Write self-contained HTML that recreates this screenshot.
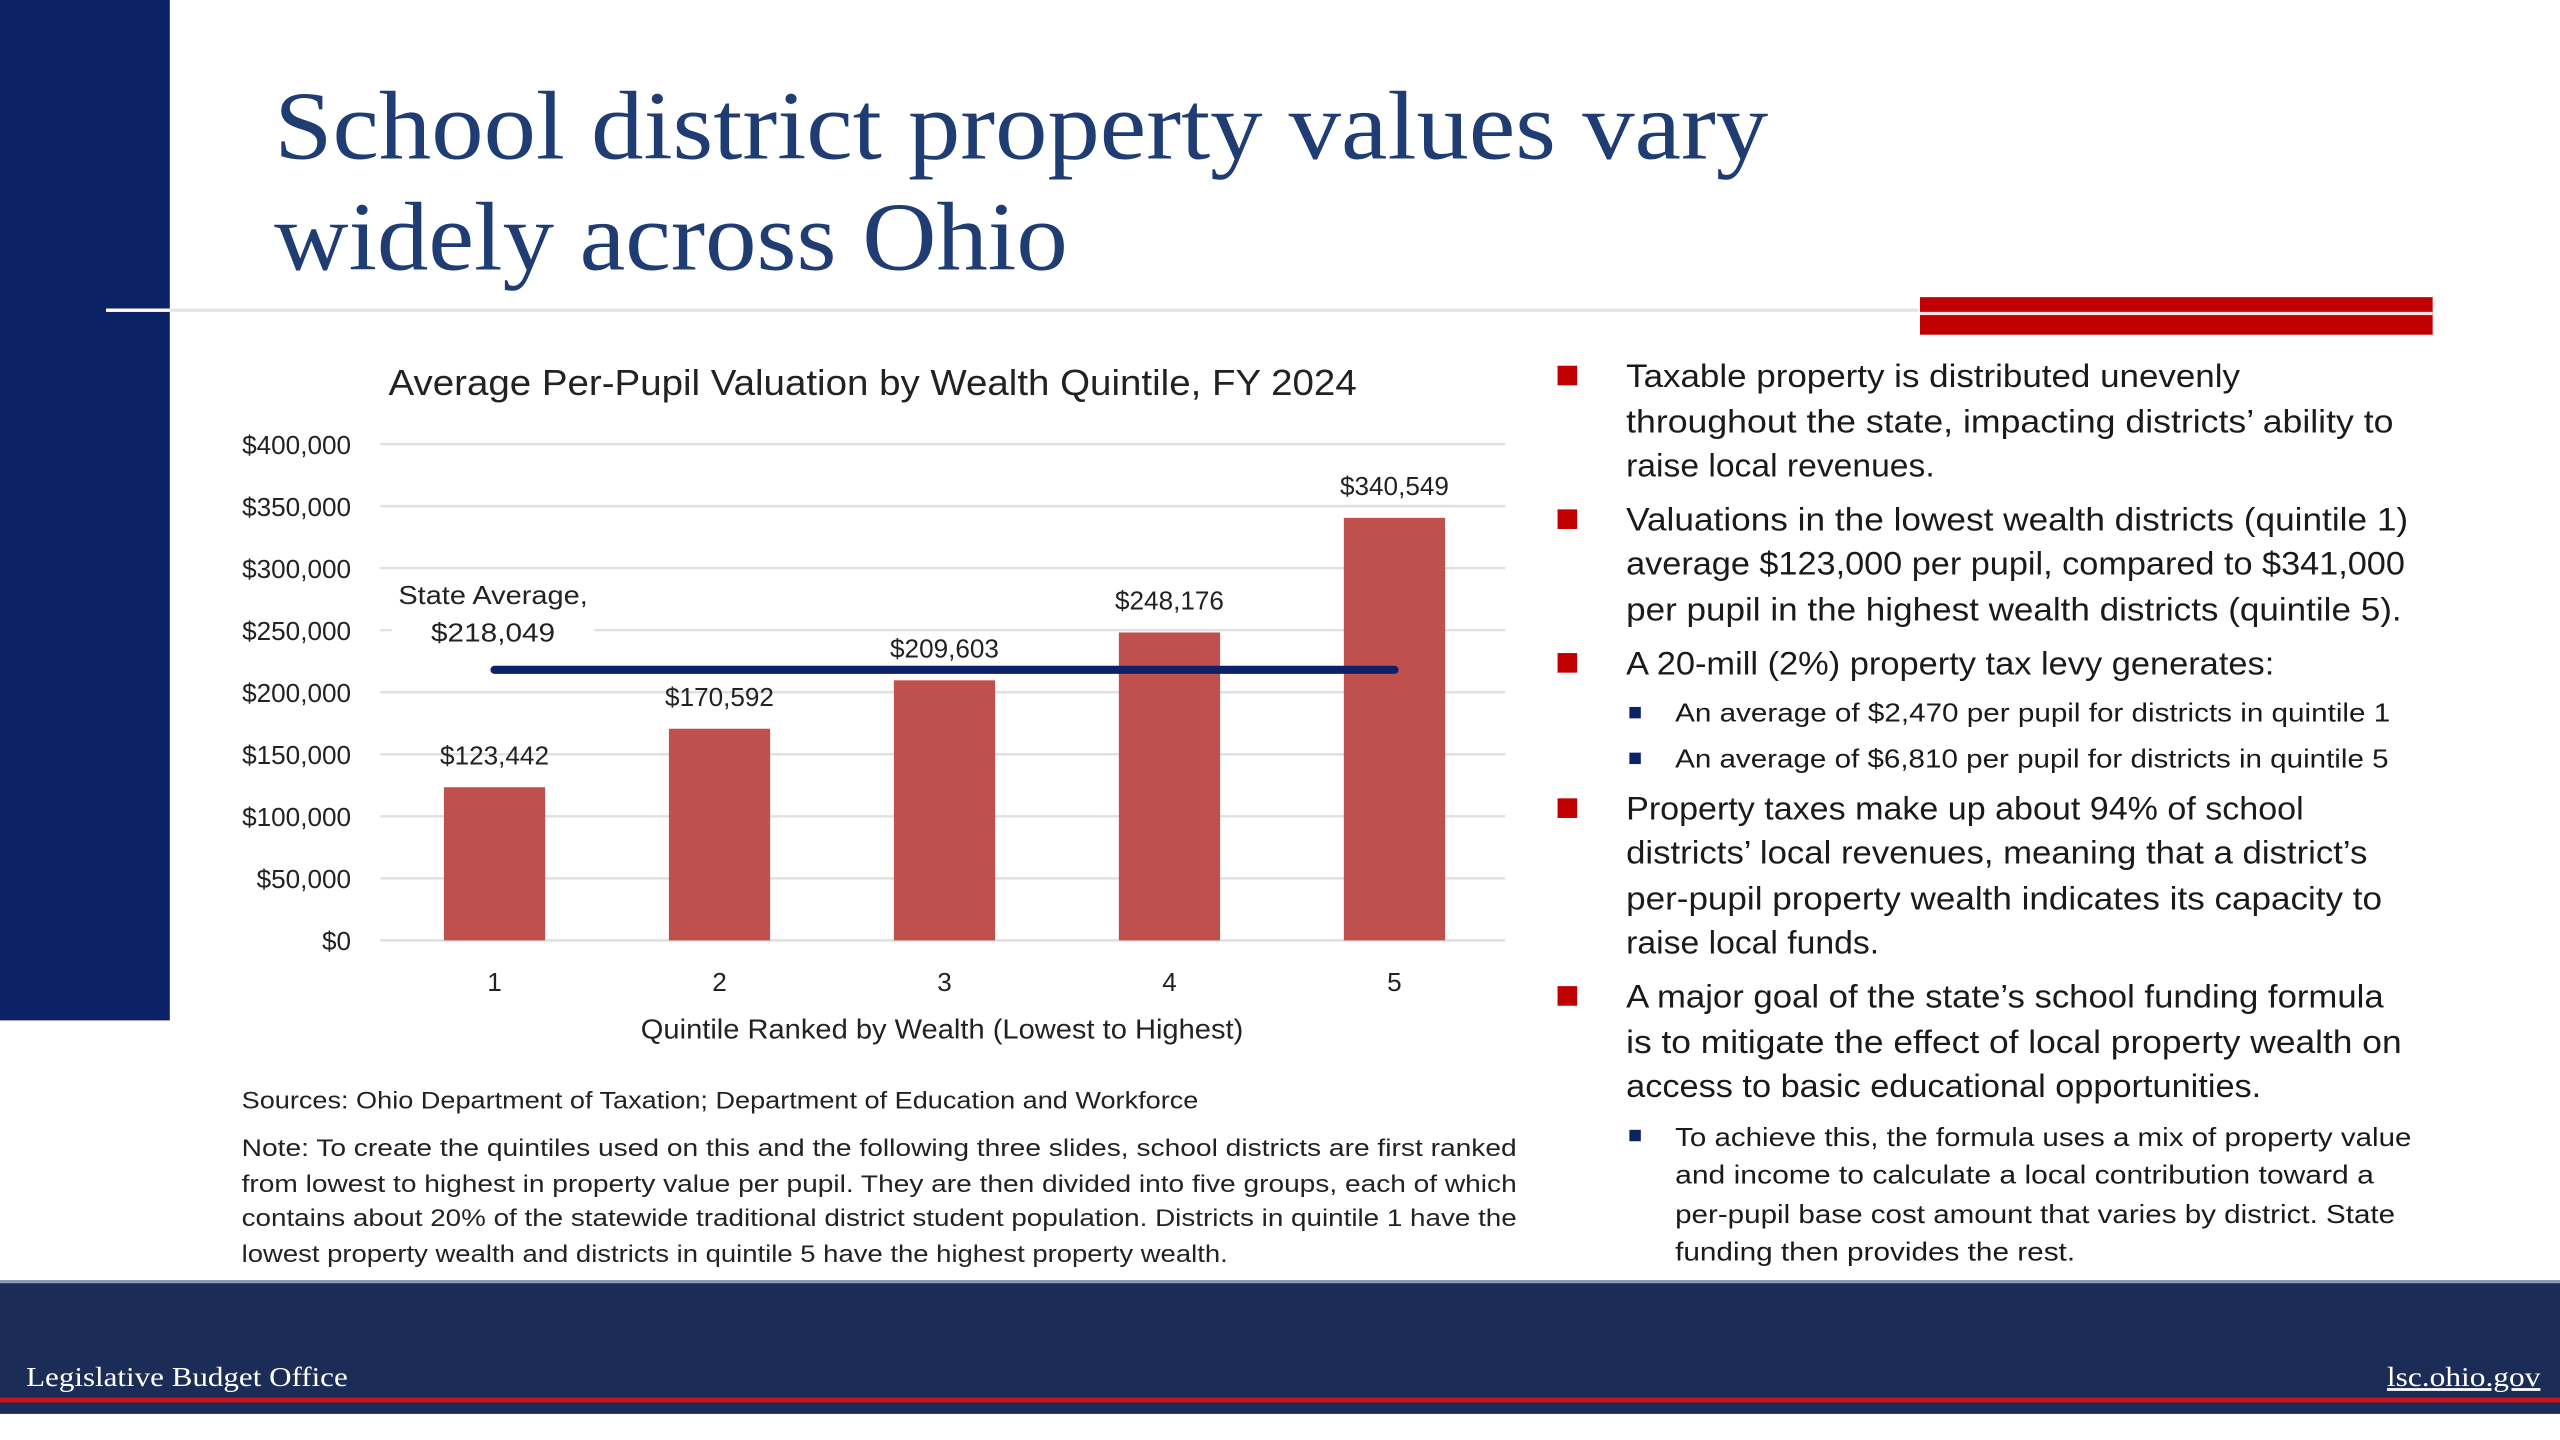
<!DOCTYPE html>
<html><head><meta charset="utf-8"><style>
html,body{margin:0;padding:0;background:#fff;width:2560px;height:1440px;overflow:hidden}
svg{display:block}
.s{font-family:"Liberation Sans",sans-serif}
</style></head><body>
<svg width="2560" height="1440" viewBox="0 0 1568 882" xmlns="http://www.w3.org/2000/svg">
<rect x="0" y="0" width="104" height="625" fill="#0b2266"/>
<rect x="65" y="189" width="1110" height="2" fill="#e4e4e4"/>
<rect x="65" y="189" width="39" height="2" fill="#ffffff"/>
<rect x="1176" y="182" width="314" height="23" fill="#c00000"/>
<rect x="1176" y="191" width="314" height="2" fill="#f4dede"/>
<g fill="#1f3c73" font-family="Liberation Serif, serif" font-size="60">
<text x="168" y="97" textLength="915" lengthAdjust="spacingAndGlyphs">School district property values vary</text>
<text x="168" y="165" textLength="486" lengthAdjust="spacingAndGlyphs">widely across Ohio</text>
</g>
<g id="chart" class="s">
<text x="238" y="242" font-size="22" fill="#222" textLength="593" lengthAdjust="spacingAndGlyphs">Average Per-Pupil Valuation by Wealth Quintile, FY 2024</text>
<text x="577" y="636" font-size="17" fill="#222" text-anchor="middle" textLength="369" lengthAdjust="spacingAndGlyphs">Quintile Ranked by Wealth (Lowest to Highest)</text>
</g>
<g class="s" fill="#222">
<text x="148" y="679" font-size="15" textLength="586" lengthAdjust="spacingAndGlyphs">Sources: Ohio Department of Taxation; Department of Education and Workforce</text>
<text x="148" y="708" font-size="15" textLength="781" lengthAdjust="spacingAndGlyphs">Note: To create the quintiles used on this and the following three slides, school districts are first ranked</text>
<text x="148" y="730" font-size="15" textLength="781" lengthAdjust="spacingAndGlyphs">from lowest to highest in property value per pupil. They are then divided into five groups, each of which</text>
<text x="148" y="751" font-size="15" textLength="781" lengthAdjust="spacingAndGlyphs">contains about 20% of the statewide traditional district student population. Districts in quintile 1 have the</text>
<text x="148" y="773" font-size="15" textLength="604" lengthAdjust="spacingAndGlyphs">lowest property wealth and districts in quintile 5 have the highest property wealth.</text>
</g>
<g class="s" fill="#1a1a1a">
<g fill="#c00000">
<rect x="954" y="224" width="12" height="12"/><rect x="954" y="312" width="12" height="12"/><rect x="954" y="400" width="12" height="12"/><rect x="954" y="489" width="12" height="12"/><rect x="954" y="604" width="12" height="12"/>
</g>
<g fill="#0b2266">
<rect x="998" y="433" width="7" height="7"/><rect x="998" y="461" width="7" height="7"/><rect x="998" y="692" width="7" height="7"/>
</g>
<g font-size="20">
<text x="996" y="237" textLength="376" lengthAdjust="spacingAndGlyphs">Taxable property is distributed unevenly</text>
<text x="996" y="265" textLength="470" lengthAdjust="spacingAndGlyphs">throughout the state, impacting districts’ ability to</text>
<text x="996" y="292" textLength="189" lengthAdjust="spacingAndGlyphs">raise local revenues.</text>
<text x="996" y="325" textLength="479" lengthAdjust="spacingAndGlyphs">Valuations in the lowest wealth districts (quintile 1)</text>
<text x="996" y="352" textLength="477" lengthAdjust="spacingAndGlyphs">average $123,000 per pupil, compared to $341,000</text>
<text x="996" y="380" textLength="475" lengthAdjust="spacingAndGlyphs">per pupil in the highest wealth districts (quintile 5).</text>
<text x="996" y="413" textLength="397" lengthAdjust="spacingAndGlyphs">A 20-mill (2%) property tax levy generates:</text>
<text x="996" y="502" textLength="415" lengthAdjust="spacingAndGlyphs">Property taxes make up about 94% of school</text>
<text x="996" y="529" textLength="454" lengthAdjust="spacingAndGlyphs">districts’ local revenues, meaning that a district’s</text>
<text x="996" y="557" textLength="463" lengthAdjust="spacingAndGlyphs">per-pupil property wealth indicates its capacity to</text>
<text x="996" y="584" textLength="155" lengthAdjust="spacingAndGlyphs">raise local funds.</text>
<text x="996" y="617" textLength="464" lengthAdjust="spacingAndGlyphs">A major goal of the state’s school funding formula</text>
<text x="996" y="645" textLength="475" lengthAdjust="spacingAndGlyphs">is to mitigate the effect of local property wealth on</text>
<text x="996" y="672" textLength="389" lengthAdjust="spacingAndGlyphs">access to basic educational opportunities.</text>
</g>
<g font-size="16">
<text x="1026" y="442" textLength="438" lengthAdjust="spacingAndGlyphs">An average of $2,470 per pupil for districts in quintile 1</text>
<text x="1026" y="470" textLength="437" lengthAdjust="spacingAndGlyphs">An average of $6,810 per pupil for districts in quintile 5</text>
<text x="1026" y="702" textLength="451" lengthAdjust="spacingAndGlyphs">To achieve this, the formula uses a mix of property value</text>
<text x="1026" y="725" textLength="428" lengthAdjust="spacingAndGlyphs">and income to calculate a local contribution toward a</text>
<text x="1026" y="749" textLength="441" lengthAdjust="spacingAndGlyphs">per-pupil base cost amount that varies by district. State</text>
<text x="1026" y="772" textLength="245" lengthAdjust="spacingAndGlyphs">funding then provides the rest.</text>
</g>
</g>
<g>
<rect x="0" y="784" width="1568" height="82" fill="#1b2d57"/>
<rect x="0" y="784" width="1568" height="2" fill="#8a9ab8"/>
<rect x="0" y="856" width="1568" height="3" fill="#d0101a"/>
<text x="16" y="849" font-family="Liberation Serif, serif" font-size="17" fill="#fff" textLength="197" lengthAdjust="spacingAndGlyphs">Legislative Budget Office</text>
<text x="1462" y="849" font-family="Liberation Serif, serif" font-size="17" fill="#fff" text-decoration="underline" textLength="94" lengthAdjust="spacingAndGlyphs">lsc.ohio.gov</text>
</g>
</svg>
<script>
const categories = ["1","2","3","4","5"];
const values = [123442,170592,209603,248176,340549];
const valueLabels = ["$123,442","$170,592","$209,603","$248,176","$340,549"];
const stateAverage = [218049];
const stateAverageLabel = ["State Average,","$218,049"];
const yTicks = [0,50000,100000,150000,200000,250000,300000,350000,400000];
const yTickLabels = ["$0","$50,000","$100,000","$150,000","$200,000","$250,000","$300,000","$350,000","$400,000"];

const NS="http://www.w3.org/2000/svg";
const g=document.getElementById('chart');
const plotL=233, plotR=922, y0=576, y1=272, yMax=400000;
const yS=v=>y0-(v/yMax)*(y0-y1);
const step=(plotR-plotL)/categories.length;
const xC=i=>plotL+step*(i+0.5)+1;
function mk(t,a){const e=document.createElementNS(NS,t);for(const k in a)e.setAttribute(k,a[k]);g.appendChild(e);return e;}
yTicks.forEach((v,i)=>{
  const l=mk('line',{x1:plotL,x2:plotR,y1:yS(v),y2:yS(v),stroke:'#e0e0e0','stroke-width':1.5});
  
  
  const t=mk('text',{x:215,y:yS(v)+6,'text-anchor':'end','font-size':16,fill:'#222'});
  t.textContent=yTickLabels[i];
  
  
});
const bg=mk('rect',{x:240,y:352,width:124,height:46,fill:'#fff'});


const sa1=mk('text',{x:244,y:370,'font-size':16,fill:'#222',textLength:116,lengthAdjust:'spacingAndGlyphs'});
sa1.textContent=stateAverageLabel[0];


const sa2=mk('text',{x:264,y:393,'font-size':16,fill:'#222',textLength:76,lengthAdjust:'spacingAndGlyphs'});
sa2.textContent=stateAverageLabel[1];


values.forEach((v,i)=>{
  const w=62;
  const r=mk('rect',{x:xC(i)-w/2,y:yS(v),width:w,height:y0-yS(v),fill:'#c0504d'});
  
  
  const t=mk('text',{x:xC(i),y:yS(v)-14,'text-anchor':'middle','font-size':16,fill:'#222'});
  t.textContent=valueLabels[i];
  
  
  const c=mk('text',{x:xC(i),y:607,'text-anchor':'middle','font-size':16,fill:'#222'});
  c.textContent=categories[i];
  
  
});
const avg=mk('line',{x1:xC(0),x2:xC(4),y1:yS(stateAverage[0]),y2:yS(stateAverage[0]),stroke:'#0b2266','stroke-width':5,'stroke-linecap':'round'});


</script>
</body></html>
